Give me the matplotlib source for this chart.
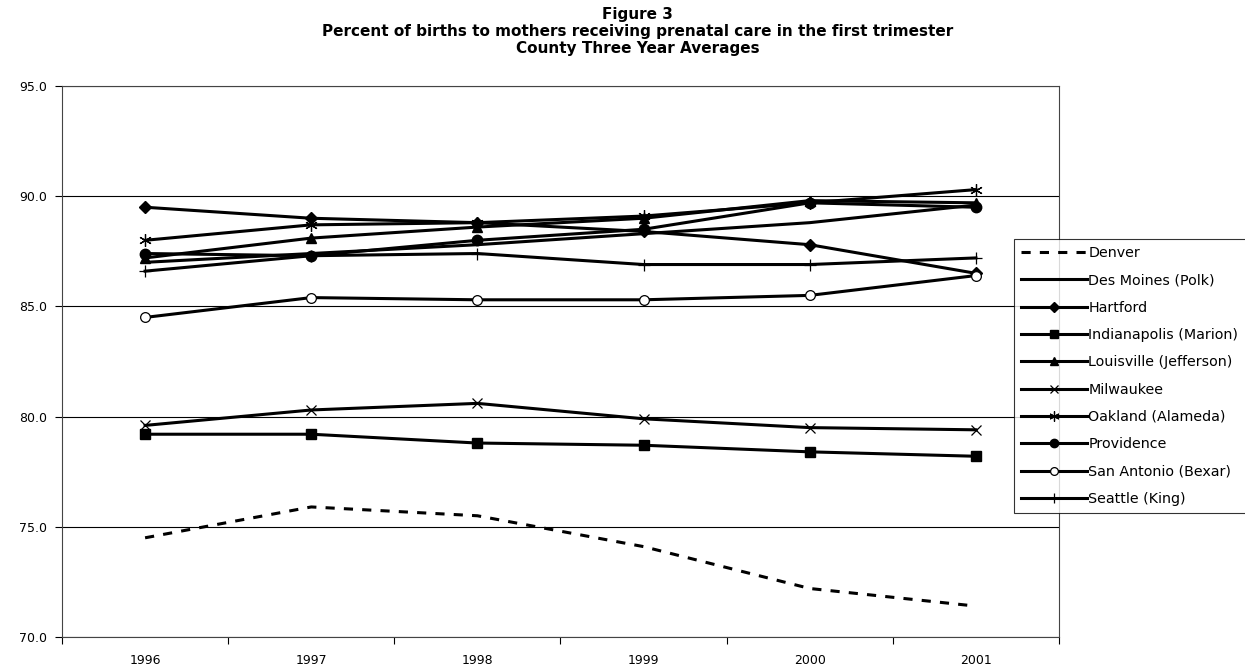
#plot.py
#Figure 3 - prenatal care in the first trimester, county three year averages

import matplotlib
matplotlib.use('Agg')
import matplotlib.pyplot as plt
from matplotlib.ticker import FixedLocator, FormatStrFormatter

years = ['1996', '1997', '1998', '1999', '2000', '2001']

denver = [74.5, 75.9, 75.5, 74.1, 72.2, 71.4]
des_moines = [87.0, 87.4, 87.8, 88.3, 88.8, 89.6]
hartford = [89.5, 89.0, 88.8, 88.4, 87.8, 86.5]
indianapolis = [79.2, 79.2, 78.8, 78.7, 78.4, 78.2]
louisville = [87.2, 88.1, 88.6, 89.0, 89.8, 89.7]
milwaukee = [79.6, 80.3, 80.6, 79.9, 79.5, 79.4]
oakland = [88.0, 88.7, 88.8, 89.1, 89.7, 90.3]
providence = [87.4, 87.3, 88.0, 88.5, 89.7, 89.5]
san_antonio = [84.5, 85.4, 85.3, 85.3, 85.5, 86.4]
seattle = [86.6, 87.3, 87.4, 86.9, 86.9, 87.2]

labels = ['Denver', 'Des Moines (Polk)', 'Hartford', 'Indianapolis (Marion)',
          'Louisville (Jefferson)', 'Milwaukee', 'Oakland (Alameda)',
          'Providence', 'San Antonio (Bexar)', 'Seattle (King)']

def main():
	plt.rcParams['font.family'] = ['DejaVu Sans']
	fig = plt.figure(figsize=(12.45, 6.7), dpi=100)
	ax = fig.add_axes([0.0498, 0.0493, 0.8008, 0.8223])

	x = list(range(len(years)))
	lw = 2.2
	# (values, marker, size, filled, edge width)
	styles = [
		(des_moines, None, 0, True, 1),
		(hartford, 'D', 6.5, True, 1),
		(indianapolis, 's', 7.5, True, 1),
		(louisville, '^', 6.5, True, 1),
		(milwaukee, 'x', 7, True, 0.9),
		(oakland, (6, 2, 0), 9, True, 0.9),
		(providence, 'o', 7.5, True, 1),
		(san_antonio, 'o', 7, False, 0.9),
		(seattle, '+', 9, True, 0.9),
	]

	handles = []
	h, = ax.plot(x, denver, color='black', lw=lw, linestyle=(0, (3, 3)))
	handles.append(h)
	for vals, mk, ms, filled, mew in styles:
		h, = ax.plot(x, vals, color='black', lw=lw, marker=mk, markersize=ms,
				markerfacecolor='black' if filled else 'white',
				markeredgecolor='black', markeredgewidth=mew)
		handles.append(h)

	ax.set_xlim(-0.5, len(years) - 0.5)
	ax.set_ylim(70, 95)
	ax.set_yticks([70, 75, 80, 85, 90, 95])
	ax.yaxis.set_major_formatter(FormatStrFormatter('%.1f'))
	ax.yaxis.grid(True, color='black', lw=0.8)
	ax.set_axisbelow(True)

	# category axis: labels at centers, tick marks on the boundaries
	ax.set_xticks(x)
	ax.set_xticklabels(years)
	ax.tick_params(axis='x', which='major', length=0, pad=12)
	ax.xaxis.set_minor_locator(FixedLocator([i - 0.5 for i in range(len(years) + 1)]))
	ax.tick_params(axis='x', which='minor', length=5, width=0.8, direction='out')
	ax.tick_params(axis='y', length=5, width=0.8, direction='out', pad=6)
	ax.tick_params(labelsize=9)
	for s in ax.spines.values():
		s.set_linewidth(0.8)
		s.set_color('#444444')

	# title is centred over the whole chart area (plot + legend)
	fig.text(0.512, 0.99, 'Figure 3\nPercent of births to mothers receiving prenatal care in the first trimester\nCounty Three Year Averages',
			ha='center', va='top', fontsize=11, fontweight='bold', linespacing=1.2)

	leg = fig.legend(handles, labels, loc='upper left', bbox_to_anchor=(0.8145, 0.6433),
			fontsize=10.3, frameon=True, fancybox=False, edgecolor='black',
			handlelength=4.6, handletextpad=0.1, labelspacing=0.93, borderpad=0.5,
			borderaxespad=0, markerscale=0.8)
	leg.get_frame().set_linewidth(0.8)

	fig.savefig('out.png', dpi=100)

if __name__ == '__main__': main()
